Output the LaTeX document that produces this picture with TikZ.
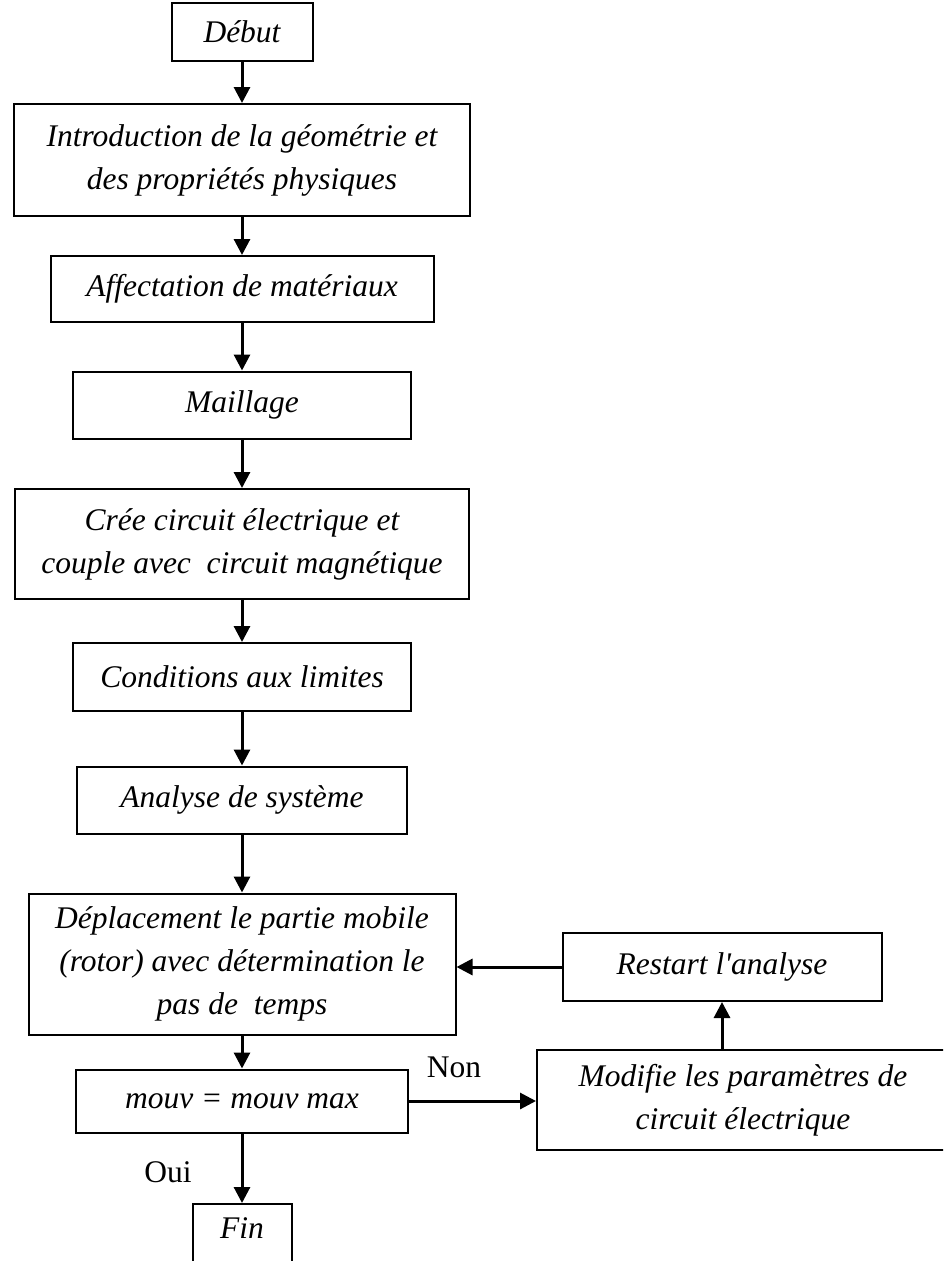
\documentclass[tikz,border=0pt]{standalone}
\usepackage{fontspec}
\setmainfont{Liberation Serif}[Ligatures=TeXOff]
\usepackage{tikz}
\usetikzlibrary{arrows.meta}
\tikzstyle{StepBox}=[draw,line width=2pt,align=center,inner sep=0pt,
font=\itshape\fontsize{31.5}{43}\selectfont]
\tikzstyle{FlowArrow}=[-{Triangle[length=16pt,width=16pt]},line width=3pt]
\tikzstyle{Answer}=[inner sep=0pt,font=\fontsize{31.5}{36}\selectfont]

\begin{document}
\begin{tikzpicture}[x=1pt,y=-1pt]
        \useasboundingbox(0,0)rectangle(943,1261);
        \clip(0,0)rectangle(943,1261);
        \node[StepBox,minimum width=141pt,minimum height=58pt](debut)at(242,32){Début};
        \node[StepBox,minimum width=456pt,minimum height=112pt](intro)at(242,160){Introduction de la géométrie et\\des propriétés physiques};
        \node[StepBox,minimum width=383pt,minimum height=66pt](materiaux)at(242,289){Affectation de matériaux};
        \node[StepBox,minimum width=338pt,minimum height=67pt](maillage)at(242,405){Maillage};
        \node[StepBox,minimum width=454pt,minimum height=110pt](circuit)at(242,544){Crée circuit électrique et\\couple avec~ circuit magnétique};
        \node[StepBox,minimum width=338pt,minimum height=68pt](limites)at(242,677){Conditions aux limites};
        \node[StepBox,minimum width=330pt,minimum height=67pt](analyse)at(242,800){Analyse de système};
        \node[StepBox,minimum width=427pt,minimum height=141pt](deplacement)at(242,964){Déplacement le partie mobile\\(rotor) avec détermination le\\pas de~ temps};
        \node[StepBox,minimum width=332pt,minimum height=63pt](test)at(242,1101){mouv = mouv max};
        \node[StepBox,minimum width=99pt,text height=34pt,text depth=60pt,anchor=north](fin)at(242,1203){Fin};
        \node[StepBox,minimum width=319pt,minimum height=68pt](restart)at(722,967){Restart l'analyse};
        \node[StepBox,minimum width=412pt,minimum height=100pt](modifie)at(743,1100){Modifie les paramètres de\\circuit électrique};
        \node[Answer](non)at(454,1067){Non};
        \node[Answer](oui)at(168,1172){Oui};
        \draw[FlowArrow](debut)--(intro);
        \draw[FlowArrow](intro)--(materiaux);
        \draw[FlowArrow](materiaux)--(maillage);
        \draw[FlowArrow](maillage)--(circuit);
        \draw[FlowArrow](circuit)--(limites);
        \draw[FlowArrow](limites)--(analyse);
        \draw[FlowArrow](analyse)--(deplacement);
        \draw[FlowArrow](deplacement)--(test);
        \draw[FlowArrow](test)--(fin);
        \draw[FlowArrow](test.east)--(test.east -| modifie.west);
        \draw[FlowArrow](modifie.north -| restart.south)--(restart.south);
        \draw[FlowArrow](restart.west)--(restart.west -| deplacement.east);
    \end{tikzpicture}
\end{document}
